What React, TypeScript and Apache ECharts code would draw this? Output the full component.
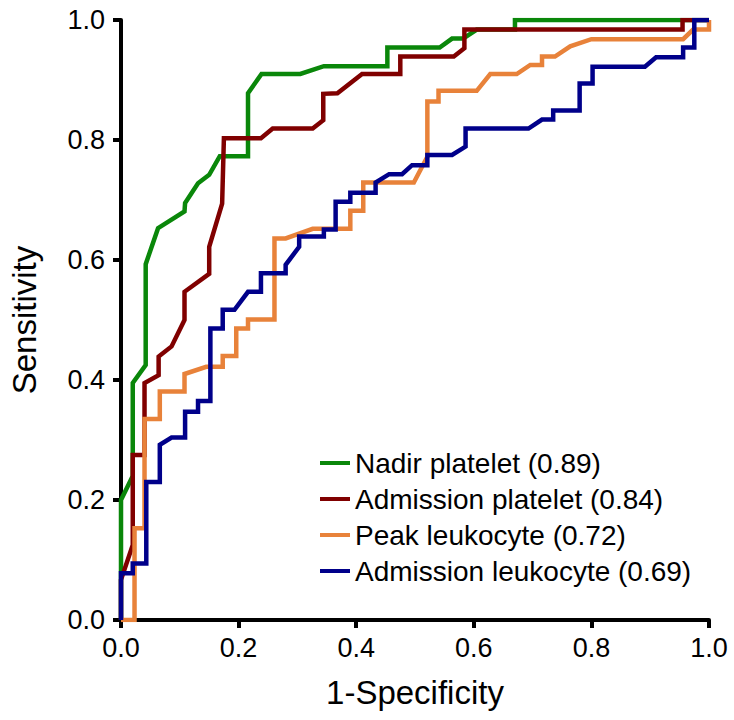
import React, { useEffect, useRef } from "react";
import * as echarts from "echarts";

const seriesNames = [
  "Nadir platelet (0.89)",
  "Admission platelet (0.84)",
  "Peak leukocyte (0.72)",
  "Admission leukocyte (0.69)",
];
const seriesColors = ["#0a870a", "#800000", "#e8823a", "#00008a"];

const tickValues = [0, 0.2, 0.4, 0.6, 0.8, 1.0];

const nadirPlatelet: [number, number][] = [
  [0, 0], [0, 0.2], [0.02, 0.24], [0.02, 0.395], [0.042, 0.425], [0.042, 0.593],
  [0.063, 0.653], [0.108, 0.681], [0.109, 0.695], [0.131, 0.728], [0.15, 0.742],
  [0.168, 0.773], [0.216, 0.773], [0.216, 0.878], [0.239, 0.91], [0.305, 0.91],
  [0.345, 0.923], [0.453, 0.923], [0.453, 0.954], [0.542, 0.954], [0.563, 0.969],
  [0.582, 0.969], [0.605, 0.984], [0.67, 0.984], [0.67, 1.0], [1.0, 1.0],
];

const admissionPlatelet: [number, number][] = [
  [0, 0], [0, 0.067], [0.02, 0.125], [0.02, 0.275], [0.04, 0.275], [0.04, 0.395],
  [0.064, 0.408], [0.064, 0.439], [0.086, 0.456], [0.108, 0.5], [0.108, 0.547],
  [0.15, 0.577], [0.15, 0.622], [0.172, 0.694], [0.175, 0.803], [0.238, 0.803],
  [0.258, 0.819], [0.326, 0.819], [0.344, 0.833], [0.344, 0.877], [0.368, 0.878],
  [0.41, 0.91], [0.475, 0.91], [0.475, 0.939], [0.566, 0.939], [0.584, 0.953],
  [0.584, 0.984], [0.955, 0.984], [0.955, 1.0], [1.0, 1.0],
];

const peakLeukocyte: [number, number][] = [
  [0, 0], [0.023, 0], [0.023, 0.153], [0.04, 0.153], [0.04, 0.335], [0.066, 0.335],
  [0.066, 0.381], [0.108, 0.381], [0.108, 0.41], [0.145, 0.422], [0.173, 0.422],
  [0.173, 0.44], [0.196, 0.44], [0.196, 0.486], [0.216, 0.486], [0.216, 0.501],
  [0.261, 0.501], [0.261, 0.636], [0.28, 0.636], [0.326, 0.652], [0.39, 0.652],
  [0.39, 0.682], [0.412, 0.682], [0.412, 0.729], [0.498, 0.729], [0.521, 0.772],
  [0.521, 0.864], [0.54, 0.864], [0.54, 0.882], [0.605, 0.882], [0.628, 0.91],
  [0.673, 0.91], [0.696, 0.925], [0.716, 0.925], [0.716, 0.939], [0.738, 0.939],
  [0.764, 0.956], [0.8, 0.968], [0.956, 0.968], [0.973, 0.984], [1.0, 0.984],
  [1.0, 1.0],
];

const admissionLeukocyte: [number, number][] = [
  [0, 0], [0, 0.078], [0.02, 0.078], [0.02, 0.094], [0.043, 0.094], [0.043, 0.23],
  [0.066, 0.23], [0.066, 0.292], [0.086, 0.304], [0.109, 0.304], [0.109, 0.347],
  [0.131, 0.347], [0.131, 0.365], [0.152, 0.365], [0.152, 0.486], [0.173, 0.486],
  [0.173, 0.517], [0.193, 0.517], [0.216, 0.547], [0.238, 0.547], [0.238, 0.578],
  [0.28, 0.578], [0.28, 0.592], [0.303, 0.622], [0.303, 0.639], [0.345, 0.639],
  [0.345, 0.651], [0.365, 0.651], [0.365, 0.697], [0.39, 0.697], [0.39, 0.712],
  [0.433, 0.712], [0.433, 0.729], [0.456, 0.743], [0.478, 0.743], [0.495, 0.758],
  [0.521, 0.758], [0.521, 0.775], [0.563, 0.775], [0.586, 0.789], [0.586, 0.819],
  [0.693, 0.819], [0.716, 0.834], [0.735, 0.834], [0.735, 0.849], [0.78, 0.849],
  [0.78, 0.894], [0.802, 0.894], [0.802, 0.922], [0.891, 0.922], [0.91, 0.938],
  [0.956, 0.938], [0.956, 0.954], [0.975, 0.954], [0.975, 1.0], [1.0, 1.0],
];

const allSeries = [nadirPlatelet, admissionPlatelet, peakLeukocyte, admissionLeukocyte];

const FONT = "'Liberation Sans', Arial, sans-serif";

export default function App() {
  const ref = useRef<HTMLDivElement>(null);
  useEffect(() => {
    if (!ref.current) return;
    const chart = echarts.init(ref.current, undefined, { renderer: "svg" });
    const axisCommon = {
      type: "value" as const,
      min: 0,
      max: 1,
      interval: 0.2,
      axisLine: { show: true, onZero: false, lineStyle: { color: "#000", width: 4 } },
      axisTick: { show: true, length: 8, lineStyle: { color: "#000", width: 4 } },
      splitLine: { show: false },
    };
    chart.setOption({
      animation: false,
      backgroundColor: "#fff",
      grid: { left: 119.5, right: 25, top: 20, bottom: 100, containLabel: false },
      legend: {
        orient: "vertical",
        left: 315,
        top: 444,
        itemWidth: 30,
        itemHeight: 4,
        itemGap: 8,
        icon: "rect",
        data: seriesNames,
        textStyle: { fontFamily: FONT, fontSize: 28, color: "#000", lineHeight: 28 },
      },
      xAxis: {
        ...axisCommon,
        name: "1-Specificity",
        nameLocation: "middle",
        nameGap: 56,
        nameTextStyle: { fontFamily: FONT, fontSize: 33, color: "#000" },
        axisLabel: {
          margin: 14,
          fontFamily: FONT,
          fontSize: 27,
          color: "#000",
          formatter: (v: number) => v.toFixed(1),
          customValues: tickValues,
        },
      },
      yAxis: {
        ...axisCommon,
        name: "Sensitivity",
        nameLocation: "middle",
        nameGap: 80,
        nameTextStyle: { fontFamily: FONT, fontSize: 33, color: "#000" },
        axisLabel: {
          margin: 16,
          fontFamily: FONT,
          fontSize: 27,
          color: "#000",
          formatter: (v: number) => v.toFixed(1),
        },
      },
      series: allSeries.map((d, i) => ({
        name: seriesNames[i],
        type: "line",
        data: d,
        showSymbol: false,
        symbol: "none",
        clip: true,
        color: seriesColors[i],
        lineStyle: { color: seriesColors[i], width: 4.5, join: "miter" },
        z: 2 + i,
      })),
    });
    return () => chart.dispose();
  }, []);
  return (
    <div
      ref={ref}
      style={{ position: "absolute", left: 0, top: 0, width: 734, height: 720 }}
    />
  );
}
